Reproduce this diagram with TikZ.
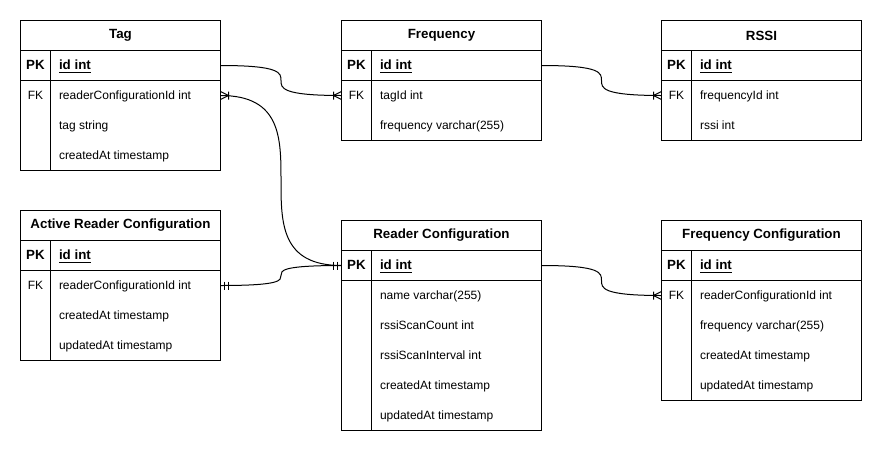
\documentclass[tikz,border=0pt]{standalone}
\usepackage{fontspec}
\setmainfont{Liberation Sans}
\usetikzlibrary{positioning}
\tikzstyle{ttl} = [draw, anchor=north west, minimum width=150pt, minimum height=22.5pt, inner sep=0pt, outer sep=0pt, font=\bfseries]
\tikzstyle{pkr} = [draw, minimum width=150pt, minimum height=22.5pt, inner sep=0pt, outer sep=0pt]
\tikzstyle{fr}  = [minimum width=150pt, minimum height=22.5pt, inner sep=0pt, outer sep=0pt]
\tikzstyle{kc}  = [xshift=11.25pt, inner sep=0pt, text height=1.5ex, text depth=.25ex]
\tikzstyle{tx}  = [anchor=west, xshift=28.5pt, inner sep=0pt, text height=1.5ex, text depth=.25ex]
\tikzstyle{pk}  = [kc, font=\bfseries]
\tikzset{
  many/.pic={\draw (0,-4) -- (-8,0) -- (0,4) (-8,-4) -- (-8,4);},
  mand/.pic={\draw (-4,-4) -- (-4,4) (-8,-4) -- (-8,4);}
}

\begin{document}
\begin{tikzpicture}[x=0.75pt, y=-0.75pt, line width=0.75pt, font=\fontsize{9}{11}\selectfont]

\path [fill=white] (0,0) rectangle (882,451);

% tag
\node [ttl] (tag) at (20.5,20.5) {Tag};
\node [pkr, below=0pt of tag  ] (tagPK) {};
\node [fr,  below=0pt of tagPK] (tagFK) {};
\node [fr,  below=0pt of tagFK] (tagTS) {};
\node [fr,  below=0pt of tagTS] (tagCA) {};
\draw (tag.north west) rectangle (tagCA.south east);
\draw ([xshift=22.5pt]tagPK.north west) -- ([xshift=22.5pt]tagCA.south west);
\node [pk] (tagPKk) at (tagPK.west) {PK};
\node [tx, font=\bfseries] (tagPKt) at (tagPK.west) {\underline{id int}};
\node [kc] (tagFKk) at (tagFK.west) {FK};
\node [tx] (tagFKt) at (tagFK.west) {readerConfigurationId int};
\node [tx] (tagTSt) at (tagTS.west) {tag string};
\node [tx] (tagCAt) at (tagCA.west) {createdAt timestamp};

% frequency
\node [ttl] (frq) at (341.5,20.5) {Frequency};
\node [pkr, below=0pt of frq  ] (frqPK) {};
\node [fr,  below=0pt of frqPK] (frqFK) {};
\node [fr,  below=0pt of frqFK] (frqFV) {};
\draw (frq.north west) rectangle (frqFV.south east);
\draw ([xshift=22.5pt]frqPK.north west) -- ([xshift=22.5pt]frqFV.south west);
\node [pk] (frqPKk) at (frqPK.west) {PK};
\node [tx, font=\bfseries] (frqPKt) at (frqPK.west) {\underline{id int}};
\node [kc] (frqFKk) at (frqFK.west) {FK};
\node [tx] (frqFKt) at (frqFK.west) {tagId int};
\node [tx] (frqFVt) at (frqFV.west) {frequency varchar(255)};

% rssi
\node [ttl] (rss) at (661.5,20.5) {RSSI};
\node [pkr, below=0pt of rss  ] (rssPK) {};
\node [fr,  below=0pt of rssPK] (rssFK) {};
\node [fr,  below=0pt of rssFK] (rssRI) {};
\draw (rss.north west) rectangle (rssRI.south east);
\draw ([xshift=22.5pt]rssPK.north west) -- ([xshift=22.5pt]rssRI.south west);
\node [pk] (rssPKk) at (rssPK.west) {PK};
\node [tx, font=\bfseries] (rssPKt) at (rssPK.west) {\underline{id int}};
\node [kc] (rssFKk) at (rssFK.west) {FK};
\node [tx] (rssFKt) at (rssFK.west) {frequencyId int};
\node [tx] (rssRIt) at (rssRI.west) {rssi int};

% active reader configuration
\node [ttl] (arc) at (20.5,210.5) {Active Reader Configuration};
\node [pkr, below=0pt of arc  ] (arcPK) {};
\node [fr,  below=0pt of arcPK] (arcFK) {};
\node [fr,  below=0pt of arcFK] (arcCA) {};
\node [fr,  below=0pt of arcCA] (arcUA) {};
\draw (arc.north west) rectangle (arcUA.south east);
\draw ([xshift=22.5pt]arcPK.north west) -- ([xshift=22.5pt]arcUA.south west);
\node [pk] (arcPKk) at (arcPK.west) {PK};
\node [tx, font=\bfseries] (arcPKt) at (arcPK.west) {\underline{id int}};
\node [kc] (arcFKk) at (arcFK.west) {FK};
\node [tx] (arcFKt) at (arcFK.west) {readerConfigurationId int};
\node [tx] (arcCAt) at (arcCA.west) {createdAt timestamp};
\node [tx] (arcUAt) at (arcUA.west) {updatedAt timestamp};

% reader configuration
\node [ttl] (rc) at (341.5,220.5) {Reader Configuration};
\node [pkr, below=0pt of rc  ] (rcPK) {};
\node [fr,  below=0pt of rcPK] (rcNM) {};
\node [fr,  below=0pt of rcNM] (rcSC) {};
\node [fr,  below=0pt of rcSC] (rcSI) {};
\node [fr,  below=0pt of rcSI] (rcCA) {};
\node [fr,  below=0pt of rcCA] (rcUA) {};
\draw (rc.north west) rectangle (rcUA.south east);
\draw ([xshift=22.5pt]rcPK.north west) -- ([xshift=22.5pt]rcUA.south west);
\node [pk] (rcPKk) at (rcPK.west) {PK};
\node [tx, font=\bfseries] (rcPKt) at (rcPK.west) {\underline{id int}};
\node [tx] (rcNMt) at (rcNM.west) {name varchar(255)};
\node [tx] (rcSCt) at (rcSC.west) {rssiScanCount int};
\node [tx] (rcSIt) at (rcSI.west) {rssiScanInterval int};
\node [tx] (rcCAt) at (rcCA.west) {createdAt timestamp};
\node [tx] (rcUAt) at (rcUA.west) {updatedAt timestamp};

% frequency configuration
\node [ttl] (fc) at (661.5,220.5) {Frequency Configuration};
\node [pkr, below=0pt of fc  ] (fcPK) {};
\node [fr,  below=0pt of fcPK] (fcFK) {};
\node [fr,  below=0pt of fcFK] (fcFV) {};
\node [fr,  below=0pt of fcFV] (fcCA) {};
\node [fr,  below=0pt of fcCA] (fcUA) {};
\draw (fc.north west) rectangle (fcUA.south east);
\draw ([xshift=22.5pt]fcPK.north west) -- ([xshift=22.5pt]fcUA.south west);
\node [pk] (fcPKk) at (fcPK.west) {PK};
\node [tx, font=\bfseries] (fcPKt) at (fcPK.west) {\underline{id int}};
\node [kc] (fcFKk) at (fcFK.west) {FK};
\node [tx] (fcFKt) at (fcFK.west) {readerConfigurationId int};
\node [tx] (fcFVt) at (fcFV.west) {frequency varchar(255)};
\node [tx] (fcCAt) at (fcCA.west) {createdAt timestamp};
\node [tx] (fcUAt) at (fcUA.west) {updatedAt timestamp};

% relations
\draw (tagPK.east) .. controls (tagPK.east -| frqFK.west) and (tagPK.east |- frqFK.west) .. (frqFK.west);
\draw (frqPK.east) .. controls (frqPK.east -| rssFK.west) and (frqPK.east |- rssFK.west) .. (rssFK.west);
\draw (tagFK.east) .. controls (tagFK.east -| rcPK.west)  and (tagFK.east |- rcPK.west)  .. (rcPK.west);
\draw (arcFK.east) .. controls (arcFK.east -| rcPK.west)  and (arcFK.east |- rcPK.west)  .. (rcPK.west);
\draw (rcPK.east)  .. controls (rcPK.east -| fcFK.west)   and (rcPK.east |- fcFK.west)   .. (fcFK.west);

\pic at (frqFK.west) {many};
\pic at (rssFK.west) {many};
\pic at (fcFK.west) {many};
\pic [xscale=-1] at (tagFK.east) {many};
\pic at (rcPK.west) {mand};
\pic [xscale=-1] at (arcFK.east) {mand};

\end{tikzpicture}
\end{document}
